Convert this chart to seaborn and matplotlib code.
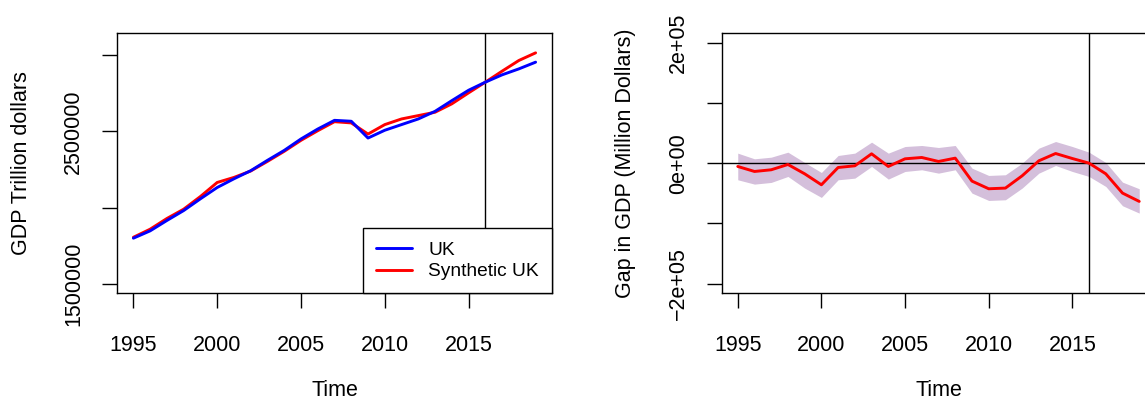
import matplotlib
matplotlib.use("Agg")
import matplotlib.pyplot as plt
import seaborn as sns
import pandas as pd
from matplotlib.ticker import FixedLocator, FuncFormatter

# ---------------- data ----------------
years = list(range(1995, 2020))
uk = [1.800e6, 1.848e6, 1.916e6, 1.981e6, 2.058e6, 2.132e6, 2.189e6, 2.242e6,
      2.310e6, 2.375e6, 2.450e6, 2.515e6, 2.572e6, 2.566e6, 2.456e6, 2.507e6,
      2.544e6, 2.581e6, 2.631e6, 2.701e6, 2.769e6, 2.822e6, 2.870e6, 2.909e6,
      2.953e6]
synthetic_uk = [1.806e6, 1.859e6, 1.929e6, 1.990e6, 2.073e6, 2.165e6, 2.198e6,
                2.240e6, 2.303e6, 2.369e6, 2.441e6, 2.504e6, 2.563e6, 2.555e6,
                2.482e6, 2.544e6, 2.581e6, 2.603e6, 2.625e6, 2.680e6, 2.752e6,
                2.822e6, 2.894e6, 2.964e6, 3.014e6]
gap = [-5500, -13800, -11000, -2200, -17700, -35900, -7200, -4400, 15500,
       -5500, 7200, 9400, 2800, 8300, -29800, -42500, -41400, -21000, 3900,
       16000, 7700, 0, -17700, -49700, -63500]
gap_upper = [16600, 7200, 9900, 18200, 1100, -15500, 12700, 16600, 34800,
             16600, 27600, 29300, 26000, 29300, -8300, -20400, -19300, 0,
             24900, 35900, 27600, 18200, 1100, -31500, -42500]
gap_lower = [-27600, -34800, -32000, -22100, -41400, -56900, -27600, -24900,
             -5500, -26500, -13800, -11000, -16600, -11000, -49700, -61900,
             -60800, -41400, -16600, -3900, -13800, -22100, -38700, -70700,
             -82900]
treatment_year = 2016
series_names = ["UK", "Synthetic UK"]
x_ticks = [1995, 2000, 2005, 2010, 2015]
left_yticks = [1.5e6, 2.0e6, 2.5e6, 3.0e6]
left_ylabels = {1.5e6: "1500000", 2.5e6: "2500000"}
right_yticks = [-2e5, -1e5, 0, 1e5, 2e5]
right_ylabels = {-2e5: "\u22122e+05", 0: "0e+00", 2e5: "2e+05"}

# ---------------- style ----------------
sns.set_theme(style="ticks")
plt.rcParams["font.family"] = ["Liberation Sans", "DejaVu Sans"]
plt.rcParams["axes.edgecolor"] = "black"
plt.rcParams["axes.labelcolor"] = "black"
plt.rcParams["text.color"] = "black"
plt.rcParams["xtick.color"] = "black"
plt.rcParams["ytick.color"] = "black"
plt.rcParams["axes.linewidth"] = 1.0
FS = 15.5
LEG_FS = 13.8

fig = plt.figure(figsize=(11.45, 3.99), dpi=100)
W, H = 1145, 399
def pos(x0, y0, x1, y1):
    return [x0 / W, (H - y1) / H, (x1 - x0) / W, (y1 - y0) / H]

ax1 = fig.add_axes(pos(117.3, 33.0, 551.7, 293.3))
ax2 = fig.add_axes(pos(721.7, 33.0, 1155.3, 293.3))

# ---------------- left panel ----------------
df = pd.DataFrame({
    "Time": years * 2,
    "GDP": uk + synthetic_uk,
    "series": [series_names[0]] * len(years) + [series_names[1]] * len(years),
})
sns.lineplot(data=df, x="Time", y="GDP", hue="series", hue_order=series_names,
             palette=["#0000ff", "#ff0000"], linewidth=2.1, ax=ax1, legend=False)
for ln in ax1.get_lines():
    if ln.get_color() == "#0000ff":
        ln.set_zorder(3)
ax1.axvline(treatment_year, color="black", lw=1.0, zorder=1)
ax1.set_xlim(1994.04, 2019.96)
ax1.set_ylim(1.439e6, 3.144e6)
ax1.yaxis.set_major_locator(FixedLocator(left_yticks))
ax1.yaxis.set_major_formatter(FuncFormatter(lambda v, p: left_ylabels.get(v, "")))
ax1.set_ylabel("GDP Trillion dollars", fontsize=FS)

handles = [plt.Line2D([], [], color="#0000ff", lw=2.1),
           plt.Line2D([], [], color="#ff0000", lw=2.1)]
leg = ax1.legend(handles, series_names, loc="lower right", borderaxespad=0,
                 fontsize=LEG_FS, frameon=True, fancybox=False, handlelength=1.85,
                 handletextpad=0.85, labelspacing=0.22, borderpad=0.68)
leg.get_frame().set_edgecolor("black")
leg.get_frame().set_linewidth(1.0)
leg.get_frame().set_alpha(1.0)
leg.set_zorder(5)

# ---------------- right panel ----------------
ax2.fill_between(years, gap_lower, gap_upper, color="#d4bfdb", lw=0, zorder=1)
sns.lineplot(x=years, y=gap, color="#ff0000", linewidth=2.1, ax=ax2, zorder=3)
ax2.axhline(0, color="black", lw=1.0, zorder=2)
ax2.axvline(treatment_year, color="black", lw=1.0, zorder=2)
ax2.set_xlim(1994.04, 2019.96)
ax2.set_ylim(-216000, 216000)
ax2.yaxis.set_major_locator(FixedLocator(right_yticks))
ax2.yaxis.set_major_formatter(FuncFormatter(lambda v, p: right_ylabels.get(round(v), "")))
ax2.set_ylabel("Gap in GDP (Million Dollars)", fontsize=FS)

for ax, ylx in ((ax1, -0.2194), (ax2, -0.223)):
    ax.xaxis.set_major_locator(FixedLocator(x_ticks))
    ax.set_xlabel("Time", fontsize=FS)
    ax.xaxis.label.set_va("center")
    ax.xaxis.set_label_coords(0.5, -0.372)
    ax.yaxis.label.set_va("center")
    ax.yaxis.set_label_coords(ylx, 0.5)
    ax.tick_params(axis="both", direction="out", length=10.8, width=1.0,
                   color="black", labelsize=FS, labelcolor="black")
    ax.tick_params(axis="x", pad=19)
    ax.tick_params(axis="y", pad=13)
    for s in ax.spines.values():
        s.set_visible(True)
        s.set_color("black")
        s.set_linewidth(1.0)
    ax.grid(False)
    ax.set_facecolor("white")
    plt.setp(ax.get_yticklabels(), rotation=90, va="center")

fig.savefig("out.png", dpi=100, facecolor="white")
